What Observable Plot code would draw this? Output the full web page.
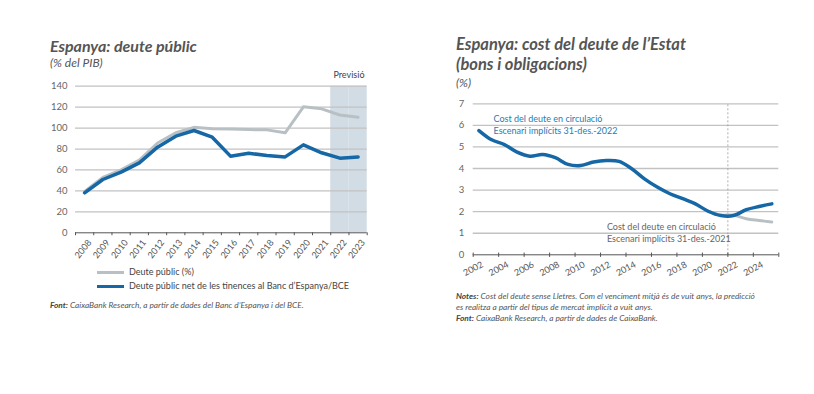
<!DOCTYPE html>
<html><head><meta charset="utf-8">
<script src="https://cdn.jsdelivr.net/npm/d3@7"></script>
<script src="https://cdn.jsdelivr.net/npm/@observablehq/plot@0.6"></script>
<style>
body{margin:0;background:#fff;}
#root{position:relative;width:814px;height:394px;overflow:hidden;font-family:Lato,"Open Sans",sans-serif;color:#4d4d4d;background:#fff;}
.t{position:absolute;white-space:nowrap;}
.title{font-weight:700;font-style:italic;font-size:16px;line-height:17px;color:#555;}
.title2{font-weight:700;font-style:italic;font-size:16.5px;line-height:15px;color:#555;}
.sub{font-style:italic;font-size:12px;line-height:14px;color:#555;}
.note{font-style:italic;font-size:8.3px;color:#555;line-height:11px;}
.note b{font-weight:700;color:#444;}
.leg{font-size:9px;color:#444;}
.sw{position:absolute;height:3px;}
.plot{position:absolute;}
</style>
</head><body><div id="root">
<div class="t title" style="left:50px;top:37px;">Espanya: deute públic</div>
<div class="t sub" style="left:50px;top:56px;">(% del PIB)</div>
<div class="t title2" style="left:456px;top:37px;">Espanya: cost del deute de l’Estat</div>
<div class="t title2" style="left:456px;top:57px;">(bons i obligacions)</div>
<div class="t sub" style="left:456px;top:75.5px;">(%)</div>
<div class="sw" style="left:97px;top:271px;width:27px;background:#b9c0c4;"></div>
<div class="t leg" style="left:129px;top:266px;">Deute públic (%)</div>
<div class="sw" style="left:97px;top:285px;width:27px;background:#1667a5;"></div>
<div class="t leg" style="left:129px;top:280px;">Deute públic net de les tinences al Banc d’Espanya/BCE</div>
<div class="t note" style="left:50px;top:300px;"><b>Font:</b> CaixaBank Research, a partir de dades del Banc d’Espanya i del BCE.</div>
<div class="t note" style="left:456px;top:291px;"><b>Notes:</b> Cost del deute sense Lletres. Com el venciment mitjà és de vuit anys, la predicció<br>es realitza a partir del tipus de mercat implícit a vuit anys.<br><b>Font:</b> CaixaBank Research, a partir de dades de CaixaBank.</div>
</div>
<script>
// ---- Left chart data ----
const debtYears = [2008,2009,2010,2011,2012,2013,2014,2015,2016,2017,2018,2019,2020,2021,2022,2023];
const debtTotal = [39.5,52.9,60.1,69.5,85.7,95.5,100.7,99.3,99.2,98.6,98.3,95.5,120.3,118.4,112.5,110.3];
const debtNet   = [38.2,50.9,57.9,66.8,81.8,92.3,97.7,91.3,73.2,76.0,73.8,72.5,84.0,76.4,71.3,72.5];
const forecastYears = [2022,2023];
const debtYTicks = [0,20,40,60,80,100,120,140];

// ---- Right chart data ----
const costYears = [2002,2003,2004,2005,2006,2007,2008,2009,2010,2011,2012,2013,2014,2015,2016,2017,2018,2019,2020,2021,2022,2023,2024,2025];
const cost2022  = [5.76,5.33,5.11,4.76,4.57,4.65,4.50,4.19,4.14,4.30,4.37,4.33,3.99,3.52,3.14,2.83,2.60,2.36,2.02,1.82,1.82,2.09,2.24,2.36];
const cost2021Years = [2020,2021,2022,2023,2024,2025];
const cost2021  = [2.02,1.84,1.84,1.67,1.59,1.52];
const costYTicks = [0,1,2,3,4,5,6,7];
const costXTicks = [2002,2004,2006,2008,2010,2012,2014,2016,2018,2020,2022,2024];
const costXTickMarks = [2002,2004,2006,2008,2010,2012,2014,2016,2018,2020,2022,2024,2026];

const totalData = debtYears.map((y,i)=>({year:y,v:debtTotal[i]}));
const netData = debtYears.map((y,i)=>({year:y,v:debtNet[i]}));
const bounds = d3.range(debtYears[0]-0.5, debtYears[debtYears.length-1]+1, 1);
const fontF = "Lato, 'Open Sans', sans-serif";

const left = Plot.plot({
  width: 360, height: 200,
  marginLeft: 55, marginRight: 13.3, marginTop: 15.7, marginBottom: 37.7,
  style: {fontFamily: fontF, background: "transparent", overflow: "visible"},
  x: {domain: [2007.5, 2023.5], axis: null},
  y: {domain: [0, 140], axis: null},
  marks: [
    Plot.rect(forecastYears, {x1: d => d - 0.5, x2: d => d + 0.5, y1: 0, y2: 140, fill: "#d1dce4"}),
    Plot.ruleY(debtYTicks.filter(d => d > 0), {stroke: "#c2c2c2", strokeWidth: 1.3}),
    Plot.text(debtYTicks, {x: 2007.5, y: d => d, text: d => String(d), textAnchor: "end", dx: -8, fontSize: 9.5, fill: "#666"}),
    Plot.line(totalData, {x: "year", y: "v", stroke: "#b9c0c4", strokeWidth: 3}),
    Plot.line(netData, {x: "year", y: "v", stroke: "#1667a5", strokeWidth: 3.5}),
    Plot.ruleY([0], {stroke: "#555", strokeWidth: 1}),
    Plot.ruleX(bounds, {x: d => d, y1: 0, y2: -2.8, stroke: "#555", strokeWidth: 1}),
    Plot.text(debtYears, {x: d => d, y: 0, text: d => String(d), rotate: -52, textAnchor: "end", dy: 8, dx: 5, fontSize: 9, fill: "#555"}),
    Plot.text(["Previsió"], {x: 2022.5, y: 140, dy: -11, text: d => d, fontSize: 9, fill: "#444"})
  ]
});

const blueCost = costYears.map((y,i)=>({year:y, v:cost2022[i]}));
const grayCost = cost2021Years.map((y,i)=>({year:y, v:cost2021[i]}));
const mid = 0.45;

const right = Plot.plot({
  width: 360, height: 190,
  marginLeft: 32.7, marginRight: 21.7, marginTop: 13.3, marginBottom: 25.7,
  style: {fontFamily: fontF, background: "transparent", overflow: "visible"},
  x: {domain: [2002, 2026], axis: null},
  y: {domain: [0, 7], axis: null},
  marks: [
    Plot.ruleY(costYTicks.filter(d => d > 0), {stroke: "#c2c2c2", strokeWidth: 1.3}),
    Plot.text(costYTicks, {x: 2002, y: d => d, text: d => String(d), textAnchor: "end", dx: -9, fontSize: 9.5, fill: "#666"}),
    Plot.ruleX([2022], {y1: 0, y2: 7, stroke: "#9a9a9a", strokeWidth: 0.8, strokeDasharray: "2,2"}),
    Plot.line(grayCost, {x: d => d.year + mid, y: "v", curve: "catmull-rom", stroke: "#b9c0c4", strokeWidth: 3}),
    Plot.line(blueCost, {x: d => d.year + mid, y: "v", curve: "catmull-rom", stroke: "#1667a5", strokeWidth: 3.5}),
    Plot.ruleY([0], {stroke: "#555", strokeWidth: 1}),
    Plot.ruleX(costXTickMarks, {x: d => d, y1: -0.12, y2: 0.08, stroke: "#555", strokeWidth: 1}),
    Plot.text(costXTicks, {x: d => d, y: 0, text: d => String(d), rotate: -28, dy: 14, fontSize: 9, fill: "#555"}),
    Plot.text(["Cost del deute en circulació"], {x: 2003.6, y: 6.3, text: d => d, textAnchor: "start", fontSize: 9, fill: "#2a7bb0"}),
    Plot.text(["Escenari implícits 31-des.-2022"], {x: 2003.6, y: 5.72, text: d => d, textAnchor: "start", fontSize: 9, fill: "#2a7bb0"}),
    Plot.text(["Cost del deute en circulació"], {x: 2012.5, y: 1.28, text: d => d, textAnchor: "start", fontSize: 9, fill: "#666"}),
    Plot.text(["Escenari implícits 31-des.-2021"], {x: 2012.5, y: 0.71, text: d => d, textAnchor: "start", fontSize: 9, fill: "#666"})
  ]
});

const root = document.getElementById("root");
left.classList.add("plot"); left.style.left = "20px"; left.style.top = "70px";
right.classList.add("plot"); right.style.left = "440px"; right.style.top = "90px";
root.appendChild(left);
root.appendChild(right);
</script>
</body></html>
